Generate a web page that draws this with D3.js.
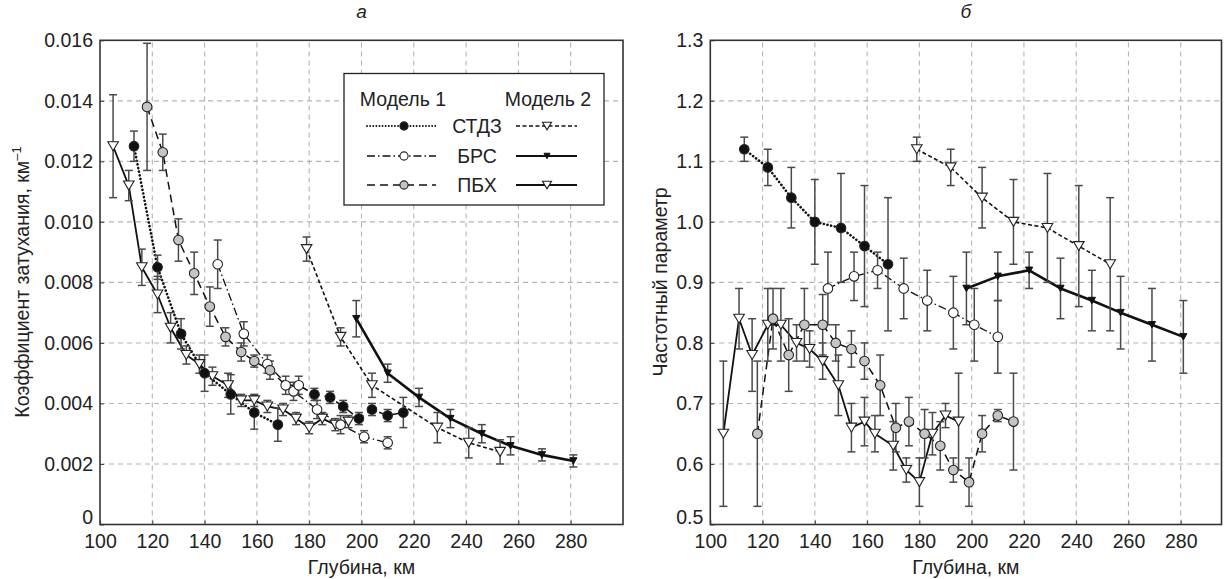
<!DOCTYPE html>
<html><head><meta charset="utf-8">
<script src="https://cdn.jsdelivr.net/npm/d3@7"></script>
<style>
body{margin:0;background:#fff;}
text{font-family:"Liberation Sans",Arial,sans-serif;fill:#222;}
</style></head>
<body><svg id="c" width="1225" height="579"></svg>
<script>
// ---------- DATA ----------
const xTicks = [100,120,140,160,180,200,220,240,260,280];
const yTicksA = [0,0.002,0.004,0.006,0.008,0.010,0.012,0.014,0.016];
const yTicksB = [0.5,0.6,0.7,0.8,0.9,1.0,1.1,1.2,1.3];
const seriesNames = ["СТДЗ","БРС","ПБХ"];
const modelNames = ["Модель 1","Модель 2"];

// panel a (attenuation coefficient)
const stdzM1_a_x = [113,122,131,140,150,159,168];
const stdzM1_a_v = [0.0125,0.0085,0.0063,0.0050,0.0043,0.0037,0.0033];
const stdzM1_a_e = [0.0005,0.0004,0.0005,0.0006,0.00065,0.00055,0.00055];

const brsM1_a_x = [145,155,164,174,183,192,201,210];
const brsM1_a_v = [0.0086,0.0063,0.0053,0.0044,0.0038,0.0033,0.0029,0.0027];
const brsM1_a_e = [0.0008,0.0004,0.0003,0.0003,0.0003,0.0003,0.0002,0.0002];

const pbxM1_a_x = [118,124,130,136,142,148,154,159,165,171,176,182,188,193,199,204,210,216];
const pbxM1_a_v = [0.0138,0.0123,0.0094,0.0083,0.0072,0.0062,0.0057,0.0054,0.0051,0.0046,0.0046,0.0043,0.0042,0.0039,0.0035,0.0038,0.0036,0.0037];
const pbxM1_a_e = [0.0021,0.0006,0.0007,0.0007,0.00065,0.0003,0.0003,0.0002,0.0003,0.0003,0.0003,0.0002,0.0002,0.0002,0.0002,0.0002,0.0002,0.0005];

const stdzM2_a_x = [179,192,204,229,241,253];
const stdzM2_a_v = [0.0091,0.0062,0.0046,0.0032,0.0027,0.0024];
const stdzM2_a_e = [0.0004,0.0003,0.0004,0.0005,0.0005,0.0004];

const brsM2_a_x = [198,210,222,234,246,257,269,281];
const brsM2_a_v = [0.0068,0.0050,0.0042,0.0035,0.0030,0.0026,0.0023,0.0021];
const brsM2_a_e = [0.0006,0.0003,0.0003,0.0003,0.0003,0.0003,0.0002,0.0002];

const pbxM2_a_x = [105,111,116,122,127,133,138,143,149,154,159,164,170,175,180,185,190,195];
const pbxM2_a_v = [0.0125,0.0112,0.0085,0.0076,0.0065,0.0056,0.0053,0.0049,0.0046,0.0041,0.0041,0.0039,0.0038,0.0035,0.0032,0.0035,0.0033,0.0034];
const pbxM2_a_e = [0.0017,0.0005,0.0006,0.0006,0.0005,0.0003,0.0003,0.0003,0.0004,0.0002,0.0002,0.0002,0.0002,0.0002,0.0002,0.0002,0.0002,0.0002];

// panel b (frequency parameter)
const stdzM1_b_x = [113,122,131,140,150,159,168];
const stdzM1_b_v = [1.12,1.09,1.04,1.00,0.99,0.96,0.93];
const stdzM1_b_e = [0.02,0.03,0.05,0.07,0.09,0.10,0.11];

const brsM1_b_x = [145,155,164,174,183,193,201,210];
const brsM1_b_v = [0.89,0.91,0.92,0.89,0.87,0.85,0.83,0.81];
const brsM1_b_e = [0.06,0.04,0.03,0.05,0.05,0.06,0.06,0.06];

const pbxM1_b_x = [118,124,130,136,143,148,154,159,165,171,176,182,188,193,199,204,210,216];
const pbxM1_b_v = [0.65,0.84,0.78,0.83,0.83,0.80,0.79,0.77,0.73,0.66,0.67,0.65,0.63,0.59,0.57,0.65,0.68,0.67];
const pbxM1_b_e = [0.12,0.05,0.06,0.06,0.05,0.03,0.03,0.03,0.05,0.04,0.04,0.04,0.04,0.02,0.04,0.03,0.01,0.08];

const stdzM2_b_x = [179,192,204,216,229,241,253];
const stdzM2_b_v = [1.12,1.09,1.04,1.00,0.99,0.96,0.93];
const stdzM2_b_e = [0.02,0.03,0.05,0.07,0.09,0.10,0.11];

const brsM2_b_x = [198,210,222,234,246,257,269,281];
const brsM2_b_v = [0.89,0.91,0.92,0.89,0.87,0.85,0.83,0.81];
const brsM2_b_e = [0.06,0.04,0.03,0.05,0.05,0.06,0.06,0.06];

const pbxM2_b_x = [105,111,116,122,127,133,138,143,149,154,159,163,170,175,180,185,190,195];
const pbxM2_b_v = [0.65,0.84,0.78,0.83,0.83,0.80,0.79,0.77,0.73,0.66,0.67,0.65,0.63,0.59,0.57,0.65,0.68,0.67];
const pbxM2_b_e = [0.12,0.05,0.06,0.06,0.06,0.03,0.03,0.03,0.05,0.04,0.04,0.03,0.04,0.02,0.04,0.035,0.02,0.08];

// ---------- STYLES ----------
const FS = 19.5;
const ST = {
  stdzM1:{dash:"0.1,3.6", w:2.6, cap:"round", marker:"circle", fill:"#111"},
  brsM1:{dash:"8,3,1.5,3", w:1.3, cap:"butt", marker:"circle", fill:"#fff"},
  pbxM1:{dash:"8,5", w:1.5, cap:"butt", marker:"circle", fill:"#c4c4c4"},
  stdzM2:{dash:"4,2.5", w:1.6, cap:"butt", marker:"tri", fill:"#fff"},
  brsM2:{dash:null, w:2.6, cap:"butt", marker:"triS", fill:"#111"},
  pbxM2:{dash:null, w:1.8, cap:"butt", marker:"tri", fill:"#fff"}
};
const zip = (xs,vs,es)=>xs.map((x,i)=>({x:x,v:vs[i],e:es[i]}));

const svg = d3.select("#c");

function panel(opt){
  const x = d3.scaleLinear().domain(opt.xd).range(opt.xr);
  const y = d3.scaleLinear().domain(opt.yd).range([524.5,40.3]);
  const g = svg.append("g");
  g.append("g").selectAll("line").data(xTicks.filter(t=>t>opt.xd[0])).join("line")
    .attr("x1",d=>x(d)).attr("x2",d=>x(d)).attr("y1",y.range()[0]).attr("y2",y.range()[1])
    .attr("stroke","#b4b4b4").attr("stroke-width",1.1).attr("stroke-dasharray","5,4");
  g.append("g").selectAll("line").data(opt.yt.slice(1,-1)).join("line")
    .attr("y1",d=>y(d)).attr("y2",d=>y(d)).attr("x1",opt.xr[0]).attr("x2",opt.xr[1])
    .attr("stroke","#b4b4b4").attr("stroke-width",1.1).attr("stroke-dasharray","5,4");
  const ax = g.append("g").attr("transform",`translate(0,${y.range()[0]})`)
    .call(d3.axisBottom(x).tickValues(xTicks).tickSizeInner(-4).tickSizeOuter(0).tickPadding(10).tickFormat(d3.format("d")));
  const ay = g.append("g").attr("transform",`translate(${opt.xr[0]},0)`)
    .call(d3.axisLeft(y).tickValues(opt.yt).tickSizeInner(-4).tickSizeOuter(0).tickPadding(7).tickFormat(opt.fmt));
  [ax,ay].forEach(a=>{a.select(".domain").remove();
    a.selectAll("text").attr("font-size",FS).attr("fill","#222").attr("font-family","Liberation Sans, Arial");
    a.selectAll("line").attr("stroke","#444");});
  // lowest y label sits slightly higher, as in the reference
  ay.selectAll(".tick").filter((d,i)=>i===0).select("text").attr("dy","-0.05em");
  g.append("rect").attr("x",opt.xr[0]).attr("y",y.range()[1]).attr("width",opt.xr[1]-opt.xr[0])
    .attr("height",y.range()[0]-y.range()[1]).attr("fill","none").attr("stroke","#333").attr("stroke-width",1.6);
  g.append("text").attr("x",(opt.xr[0]+opt.xr[1])/2).attr("y",18).attr("text-anchor","middle")
    .attr("font-family","Liberation Serif, Times New Roman, serif").attr("font-style","italic").attr("font-size",19).text(opt.title);
  g.append("text").attr("x",(opt.xr[0]+opt.xr[1])/2).attr("y",574).attr("text-anchor","middle").attr("font-size",FS).text("Глубина, км");
  return {x,y,g};
}

function drawSeries(P, data, st, fills){
  const line = d3.line().x(d=>P.x(d.x)).y(d=>P.y(d.v));
  const l = P.g.append("path").attr("d",line(data)).attr("fill","none").attr("stroke","#111")
    .attr("stroke-width",st.w).attr("stroke-linecap",st.cap).attr("stroke-linejoin","round");
  if(st.dash) l.attr("stroke-dasharray",st.dash);
  return ()=>{
    const eb = P.g.append("g").attr("stroke","#4a4a4a").attr("stroke-width",1.5);
    data.forEach(d=>{
      const xx=P.x(d.x), y1=P.y(d.v-d.e), y2=P.y(d.v+d.e);
      eb.append("line").attr("x1",xx).attr("x2",xx).attr("y1",y1).attr("y2",y2);
      eb.append("line").attr("x1",xx-4).attr("x2",xx+4).attr("y1",y1).attr("y2",y1);
      eb.append("line").attr("x1",xx-4).attr("x2",xx+4).attr("y1",y2).attr("y2",y2);
    });
    return ()=>{
      data.forEach((d,i)=>{
        const f = fills ? fills(i) : st.fill;
        drawMarker(P.g, st.marker, P.x(d.x), P.y(d.v), f);
      });
    };
  };
}
function drawMarker(g,type,cx,cy,fill,s){
  s = s||1;
  if(type==="circle"){
    g.append("circle").attr("cx",cx).attr("cy",cy).attr("r",4.8*s).attr("fill",fill).attr("stroke","#222").attr("stroke-width",1.1);
  } else if(type==="tri"){
    const w=5.3*s,h=9*s;
    g.append("path").attr("d",`M${cx-w},${cy-h/2}L${cx+w},${cy-h/2}L${cx},${cy+h/2}Z`).attr("fill",fill).attr("stroke","#222").attr("stroke-width",1.1);
  } else {
    const w=3.6*s,h=6.5*s;
    g.append("path").attr("d",`M${cx-w},${cy-h/2}L${cx+w},${cy-h/2}L${cx},${cy+h/2}Z`).attr("fill",fill).attr("stroke","#111").attr("stroke-width",1);
  }
}
function drawAll(P, list){
  const stage2 = list.map(s=>drawSeries(P,s.data,s.st,s.fills));
  const stage3 = stage2.map(f=>f());
  stage3.forEach(f=>f());
}

// ---------- PANEL A ----------
const A = panel({xd:[100,300], xr:[100,623], yd:[0,0.016], yt:yTicksA,
  fmt:d=>d===0?"0":d3.format(".3f")(d), title:"а"});
drawAll(A,[
  {data:zip(pbxM2_a_x,pbxM2_a_v,pbxM2_a_e), st:ST.pbxM2},
  {data:zip(stdzM2_a_x,stdzM2_a_v,stdzM2_a_e), st:ST.stdzM2},
  {data:zip(brsM2_a_x,brsM2_a_v,brsM2_a_e), st:ST.brsM2},
  {data:zip(brsM1_a_x,brsM1_a_v,brsM1_a_e), st:ST.brsM1},
  {data:zip(pbxM1_a_x,pbxM1_a_v,pbxM1_a_e), st:ST.pbxM1, fills:i=> i<9?"#c4c4c4":(i<11?"#fff":"#111")},
  {data:zip(stdzM1_a_x,stdzM1_a_v,stdzM1_a_e), st:ST.stdzM1}
]);
const ylA = svg.append("text").attr("transform","translate(29,282) rotate(-90)").attr("text-anchor","middle").attr("font-size",FS);
ylA.append("tspan").text("Коэффициент затухания, км");
ylA.append("tspan").attr("dy",-8).attr("font-size",13).text("–1");

// legend
const lg = svg.append("g");
lg.append("rect").attr("x",344).attr("y",73.5).attr("width",260).attr("height",131.5).attr("fill","#fff").attr("stroke","#222").attr("stroke-width",1.3);
lg.append("text").attr("x",403).attr("y",106).attr("text-anchor","middle").attr("font-size",FS).text(modelNames[0]);
lg.append("text").attr("x",548).attr("y",106).attr("text-anchor","middle").attr("font-size",FS).text(modelNames[1]);
const rowsY=[126,156,185];
const m1 = [ST.stdzM1,ST.brsM1,ST.pbxM1], m2=[ST.stdzM2,ST.brsM2,ST.pbxM2];
seriesNames.forEach((n,i)=>{
  const yy=rowsY[i];
  lg.append("text").attr("x",477).attr("y",yy+7).attr("text-anchor","middle").attr("font-size",FS).text(n);
  [[m1[i],367,436,404],[m2[i],516,577,547]].forEach(([st,a,b,c])=>{
    const l=lg.append("line").attr("x1",a).attr("x2",b).attr("y1",yy).attr("y2",yy).attr("stroke","#111")
      .attr("stroke-width",Math.min(st.w,2.2)).attr("stroke-linecap",st.cap);
    if(st.dash) l.attr("stroke-dasharray",st.dash==="0.1,3.6"?"0.1,3":st.dash);
    if(st.dash==="0.1,3.6") l.attr("stroke-width",1.8);
    drawMarker(lg,st.marker,c,yy,st.fill,0.85);
  });
});

// ---------- PANEL B ----------
const B = panel({xd:[100,295.6], xr:[710.3,1221.5], yd:[0.5,1.3], yt:yTicksB,
  fmt:d3.format(".1f"), title:"б"});
drawAll(B,[
  {data:zip(pbxM2_b_x,pbxM2_b_v,pbxM2_b_e), st:ST.pbxM2},
  {data:zip(pbxM1_b_x,pbxM1_b_v,pbxM1_b_e), st:ST.pbxM1},
  {data:zip(stdzM2_b_x,stdzM2_b_v,stdzM2_b_e), st:ST.stdzM2},
  {data:zip(brsM2_b_x,brsM2_b_v,brsM2_b_e), st:ST.brsM2},
  {data:zip(brsM1_b_x,brsM1_b_v,brsM1_b_e), st:ST.brsM1},
  {data:zip(stdzM1_b_x,stdzM1_b_v,stdzM1_b_e), st:ST.stdzM1}
]);
svg.append("text").attr("transform","translate(667,282) rotate(-90)").attr("text-anchor","middle").attr("font-size",FS).text("Частотный параметр");
</script></body></html>
